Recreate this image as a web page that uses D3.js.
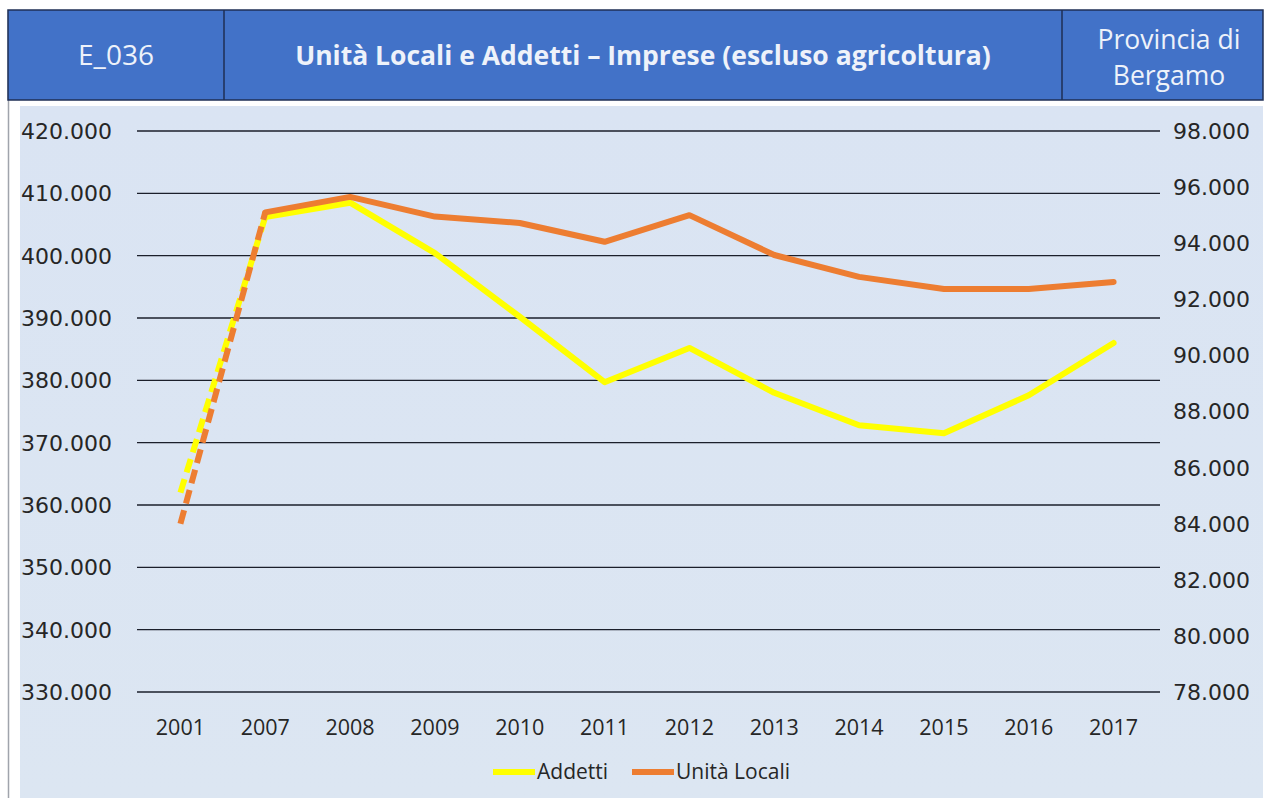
<!DOCTYPE html>
<html>
<head>
<meta charset="utf-8">
<script src="https://cdn.jsdelivr.net/npm/d3@7"></script>
<style>
  html, body { margin: 0; padding: 0; background: #ffffff; }
  svg { display: block; }
</style>
</head>
<body>
<svg id="chart" width="1267" height="798"></svg>
<script>
// Years on the category axis
const years = ["2001", "2007", "2008", "2009", "2010", "2011", "2012", "2013", "2014", "2015", "2016", "2017"];
// Employees (left axis)
const addetti = [362000, 406200, 408500, 400400, 390200, 379700, 385200, 378000, 372800, 371500, 377600, 386000];
// Local units (right axis)
const unitaLocali = [84000, 95100, 95650, 94950, 94720, 94050, 95000, 93580, 92800, 92370, 92370, 92620];
// Axis ticks
const leftTicks = [330000, 340000, 350000, 360000, 370000, 380000, 390000, 400000, 410000, 420000];
const rightTicks = [78000, 80000, 82000, 84000, 86000, 88000, 90000, 92000, 94000, 96000, 98000];
// Header cells
const headerCode = "E_036";
const headerTitle = "Unità Locali e Addetti – Imprese (escluso agricoltura)";
const headerPlace = ["Provincia di", "Bergamo"];
const seriesNames = ["Addetti", "Unità Locali"];

const svg = d3.select("#chart");
const W = 1267, H = 798;

const defs = svg.append("defs");
const grad = defs.append("linearGradient").attr("id", "bg").attr("x1", 0).attr("y1", 0).attr("x2", 0).attr("y2", 1);
grad.append("stop").attr("offset", "0%").attr("stop-color", "#dae4f3");
grad.append("stop").attr("offset", "100%").attr("stop-color", "#dce6f2");

// Outer frame line on the left
svg.append("line").attr("x1", 8.5).attr("x2", 8.5).attr("y1", 10).attr("y2", H)
  .attr("stroke", "#a0a4ac").attr("stroke-width", 1.5);

// Chart panel
svg.append("rect").attr("x", 20).attr("y", 106).attr("width", 1243).attr("height", 692)
  .attr("fill", "url(#bg)");

// Header band
const hdr = svg.append("g");
hdr.append("rect").attr("x", 8).attr("y", 10).attr("width", 1255).attr("height", 90)
  .attr("fill", "#4272c8").attr("stroke", "#1f2f55").attr("stroke-width", 1.5);
[224, 1062].forEach(xx => hdr.append("line").attr("x1", xx).attr("x2", xx).attr("y1", 10).attr("y2", 100)
  .attr("stroke", "#1f2f55").attr("stroke-width", 1.5));
const hFont = "Open Sans, Lato, sans-serif";
hdr.append("text").attr("x", 116).attr("y", 65).attr("text-anchor", "middle")
  .attr("font-family", hFont).attr("font-size", 28).attr("fill", "#eef2fa").text(headerCode);
hdr.append("text").attr("x", 643).attr("y", 65).attr("text-anchor", "middle")
  .attr("font-family", hFont).attr("font-weight", 700).attr("font-size", 26.5).attr("fill", "#eef2fa").text(headerTitle);
headerPlace.forEach((t, i) => hdr.append("text").attr("x", 1169).attr("y", 49 + i * 36).attr("text-anchor", "middle")
  .attr("font-family", hFont).attr("font-size", 26.5).attr("fill", "#eef2fa").text(t));

// Plot geometry
const plotLeft = 138, plotRight = 1156, plotTop = 131, plotBottom = 692;

const x = d3.scalePoint().domain(years).range([plotLeft, plotRight]).padding(0.5);
const yL = d3.scaleLinear().domain([330000, 420000]).range([plotBottom, plotTop]);
const yR = d3.scaleLinear().domain([78000, 98000]).range([plotBottom, plotTop]);

const fmt = v => d3.format(",")(v).replace(/,/g, ".");

// Horizontal gridlines from the left axis
svg.append("g").selectAll("line").data(leftTicks).join("line")
  .attr("x1", 137).attr("x2", 1160)
  .attr("y1", d => yL(d)).attr("y2", d => yL(d))
  .attr("stroke", "#1b1f2b").attr("stroke-width", 1.3);

const numFont = "DejaVu Sans, Verdana, sans-serif";
// Left axis labels
svg.append("g").selectAll("text").data(leftTicks).join("text")
  .attr("x", 112).attr("y", d => yL(d)).attr("dy", "0.36em").attr("text-anchor", "end")
  .attr("font-family", numFont).attr("font-size", 22).attr("fill", "#262626")
  .text(fmt);

// Right axis labels
svg.append("g").selectAll("text").data(rightTicks).join("text")
  .attr("x", 1173).attr("y", d => yR(d)).attr("dy", "0.36em").attr("text-anchor", "start")
  .attr("font-family", numFont).attr("font-size", 22).attr("fill", "#262626")
  .text(fmt);

// Category labels
const catFont = "Open Sans, Lato, sans-serif";
svg.append("g").selectAll("text").data(years).join("text")
  .attr("x", d => x(d)).attr("y", 735).attr("text-anchor", "middle")
  .attr("font-family", catFont).attr("font-size", 21.5).attr("fill", "#262626")
  .text(d => d);

const series = [
  { name: seriesNames[0], values: addetti, y: yL, color: "#ffff00" },
  { name: seriesNames[1], values: unitaLocali, y: yR, color: "#ed7d31" }
];

const line = d3.line().x(d => d[0]).y(d => d[1]);

series.forEach(s => {
  const pts = years.map((yr, i) => [x(yr), s.y(s.values[i])]);
  // 2001 -> 2007 dashed (gap in years)
  svg.append("path").datum(pts.slice(0, 2)).attr("d", line)
    .attr("fill", "none").attr("stroke", s.color).attr("stroke-width", 6)
    .attr("stroke-dasharray", "14 7");
  svg.append("path").datum(pts.slice(1)).attr("d", line)
    .attr("fill", "none").attr("stroke", s.color).attr("stroke-width", 6)
    .attr("stroke-linejoin", "round").attr("stroke-linecap", "round");
});

// Legend
const leg = svg.append("g");
const legItems = [
  { name: seriesNames[0], color: "#ffff00", x0: 493 },
  { name: seriesNames[1], color: "#ed7d31", x0: 632 }
];
legItems.forEach(it => {
  leg.append("line").attr("x1", it.x0).attr("x2", it.x0 + 42).attr("y1", 772).attr("y2", 772)
    .attr("stroke", it.color).attr("stroke-width", 6);
  leg.append("text").attr("x", it.x0 + 44).attr("y", 779).attr("font-family", catFont)
    .attr("font-size", 21).attr("fill", "#262626").text(it.name);
});
</script>
</body>
</html>
